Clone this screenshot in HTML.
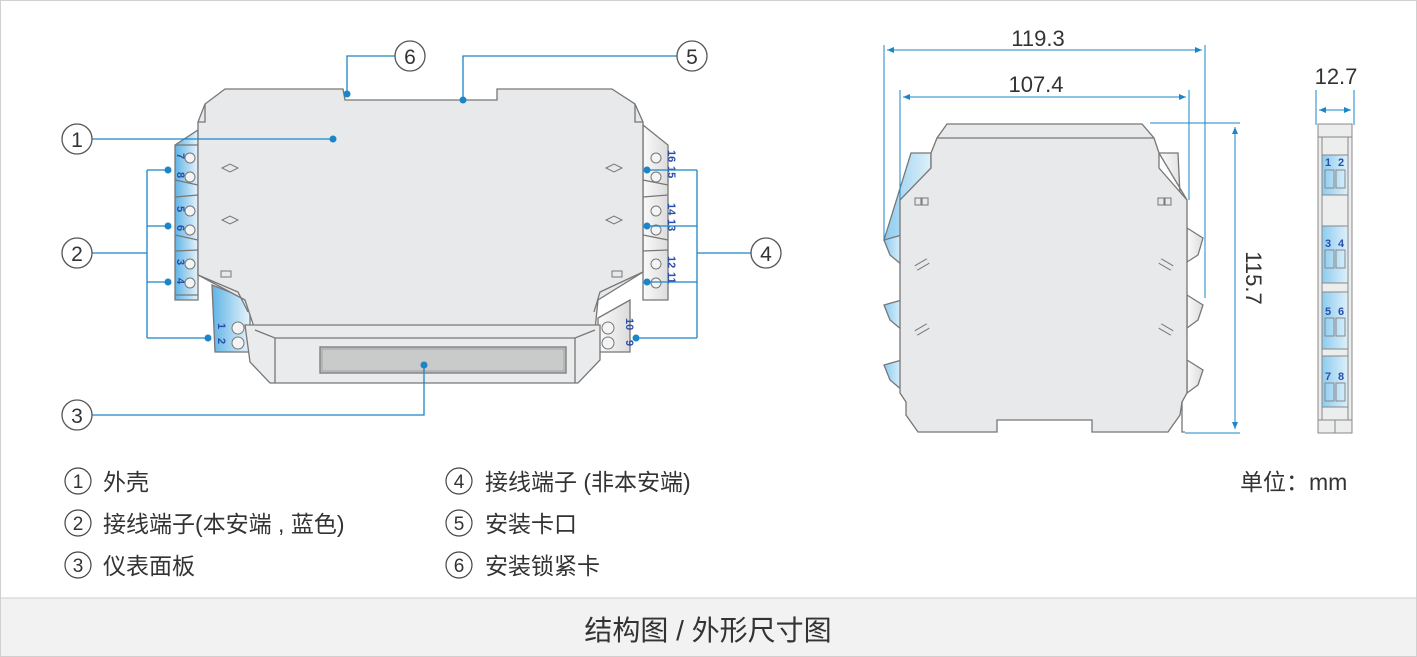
<!DOCTYPE html>
<html><head><meta charset="utf-8"><style>
html,body{margin:0;padding:0;background:#fff}
svg{display:block}
text{font-family:"Liberation Sans","Noto Sans CJK SC",sans-serif}
</style></head><body>
<svg width="1417" height="657" viewBox="0 0 1417 657" xmlns="http://www.w3.org/2000/svg">
<defs>
<linearGradient id="bl" x1="0" x2="1" y1="0" y2="0"><stop offset="0" stop-color="#5fb4e6"/><stop offset="1" stop-color="#e8f3fa"/></linearGradient>
<linearGradient id="gr" x1="0" x2="1"><stop offset="0" stop-color="#fafafa"/><stop offset="1" stop-color="#dcdcdc"/></linearGradient>
<linearGradient id="bv" x1="0" x2="1"><stop offset="0" stop-color="#8cccf0"/><stop offset="1" stop-color="#dff0fa"/></linearGradient>
</defs>
<rect x="0.5" y="0.5" width="1416" height="656" fill="#fff" stroke="#d0d0d0"/>
<rect x="1" y="598" width="1415" height="58" fill="#f2f2f2"/>
<line x1="1" y1="598" x2="1416" y2="598" stroke="#cfcfcf"/>
<text x="708" y="640" font-size="28" text-anchor="middle" fill="#333">结构图 / 外形尺寸图</text>

<!-- LEFT DEVICE -->
<g stroke="#777" stroke-width="1.3">
 <path d="M175,145 L198,130 L198,300 L175,300 Z" fill="url(#bl)"/>
 <path d="M175,145 L198,145 M175,180 L198,185 M175,197 L198,195 M175,235 L198,240 M175,251 L198,250 M175,295 L198,295" fill="none"/>
 <path d="M212,285 L250,300 L250,352 L215,352 Z" fill="url(#bl)"/>
 <path d="M643,125 L668,145 L668,300 L643,300 Z" fill="url(#gr)"/>
 <path d="M643,180 L668,185 M643,197 L668,195 M643,235 L668,240 M643,251 L668,250" fill="none"/>
 <path d="M598,318 L630,300 L630,352 L598,352 Z" fill="url(#gr)"/>
 <path d="M198,122 L205,104 L225,89 L343,89 L345,100 L497,100 L497,89 L612,89 L635,104 L643,122 L643,272 L598,300 L595,330 L255,330 L245,300 L198,275 Z" fill="#e8e9eb"/>
 <path d="M205,104 L205,122 L198,122 M635,104 L635,122 L643,122" fill="none"/>
 <path d="M198,275 L238,292 L248,312 M643,272 L600,292 L594,312" fill="none"/>
 <path d="M245,325 L600,325 L600,360 L578,383 L270,383 L250,362 Z" fill="#eaebed"/>
 <path d="M255,330 L275,338 L575,338 L595,330 M275,338 L275,383 M575,338 L575,383" fill="none"/>
 <rect x="320" y="347" width="246" height="26" fill="#c9caca"/>
 <rect x="322" y="349" width="242" height="22" fill="none" stroke="#999" stroke-width="0.8"/>
 <path d="M222,168 L230,164 L238,168 L230,172 Z M222,220 L230,216 L238,220 L230,224 Z M606,168 L614,164 L622,168 L614,172 Z M606,220 L614,216 L622,220 L614,224 Z" fill="none" stroke-width="1"/>
 <rect x="221" y="271" width="10" height="6" fill="none" stroke-width="1"/>
 <rect x="612" y="271" width="10" height="6" fill="none" stroke-width="1"/>
 <g fill="#f4f4f4" stroke-width="1">
  <circle cx="190" cy="158" r="5"/><circle cx="190" cy="177" r="5"/><circle cx="190" cy="211" r="5"/><circle cx="190" cy="230" r="5"/><circle cx="190" cy="264" r="5"/><circle cx="190" cy="283" r="5"/>
  <circle cx="656" cy="158" r="5"/><circle cx="656" cy="177" r="5"/><circle cx="656" cy="211" r="5"/><circle cx="656" cy="230" r="5"/><circle cx="656" cy="264" r="5"/><circle cx="656" cy="283" r="5"/>
  <circle cx="238" cy="328" r="6"/><circle cx="238" cy="343" r="6"/><circle cx="608" cy="328" r="6"/><circle cx="608" cy="343" r="6"/>
 </g>
</g>
<g fill="#2a4fa8" font-size="11" font-weight="bold">
 <text transform="translate(177,153) rotate(90)">7</text><text transform="translate(177,172) rotate(90)">8</text>
 <text transform="translate(177,206) rotate(90)">5</text><text transform="translate(177,225) rotate(90)">6</text>
 <text transform="translate(177,259) rotate(90)">3</text><text transform="translate(177,278) rotate(90)">4</text>
 <text transform="translate(218,323) rotate(90)">1</text><text transform="translate(218,338) rotate(90)">2</text>
 <text transform="translate(668,150) rotate(90)">16</text><text transform="translate(668,166) rotate(90)">15</text>
 <text transform="translate(668,203) rotate(90)">14</text><text transform="translate(668,219) rotate(90)">13</text>
 <text transform="translate(668,256) rotate(90)">12</text><text transform="translate(668,272) rotate(90)">11</text>
 <text transform="translate(626,318) rotate(90)">10</text><text transform="translate(626,340) rotate(90)">9</text>
</g>

<!-- callouts -->
<g stroke="#1a86c8" stroke-width="1.3" fill="none">
 <path d="M92,139 H333"/>
 <path d="M92,253 H147 M147,170 V338 M147,170 H168 M147,226 H168 M147,282 H168 M147,338 H208"/>
 <path d="M92,415 H424 V365"/>
 <path d="M751,253 H697 M697,170 V338 M697,170 H647 M697,226 H647 M697,282 H647 M697,338 H636"/>
 <path d="M677,56 H463 V100"/>
 <path d="M395,56 H347 V94"/>
</g>
<g fill="#1a86c8">
 <circle cx="333" cy="139" r="3.5"/><circle cx="168" cy="170" r="3.5"/><circle cx="168" cy="226" r="3.5"/><circle cx="168" cy="282" r="3.5"/><circle cx="208" cy="338" r="3.5"/>
 <circle cx="424" cy="365" r="3.5"/><circle cx="647" cy="170" r="3.5"/><circle cx="647" cy="226" r="3.5"/><circle cx="647" cy="282" r="3.5"/><circle cx="636" cy="338" r="3.5"/>
 <circle cx="463" cy="100" r="3.5"/><circle cx="347" cy="94" r="3.5"/>
</g>
<g stroke="#555" stroke-width="1.3" fill="#fff">
 <circle cx="77" cy="139" r="15"/><circle cx="77" cy="253" r="15"/><circle cx="77" cy="415" r="15"/>
 <circle cx="766" cy="253" r="15"/><circle cx="692" cy="56" r="15"/><circle cx="410" cy="56" r="15"/>
</g>
<g font-size="21" fill="#333" text-anchor="middle">
 <text x="77" y="147">1</text><text x="77" y="261">2</text><text x="77" y="423">3</text>
 <text x="766" y="261">4</text><text x="692" y="64">5</text><text x="410" y="64">6</text>
</g>

<!-- RIGHT SIDE VIEW -->
<g stroke="#777" stroke-width="1.3">
 <path d="M911,153 L931,153 L931,168 L902,200 L902,240 L884,240 Z" fill="url(#bv)"/>
 <path d="M902,235 L884,240 L890,255 L902,265 Z M902,300 L884,305 L890,320 L902,330 Z M902,360 L884,365 L890,380 L902,390 Z" fill="url(#bv)"/>
 <path d="M1159,153 L1178,153 L1180,195 L1187,200 Z" fill="url(#gr)"/>
 <path d="M1187,228 L1203,238 L1198,255 L1187,262 Z M1187,295 L1203,305 L1198,320 L1187,328 Z M1187,360 L1203,370 L1198,385 L1187,393 Z" fill="url(#gr)"/>
 <path d="M947,124 L1142,124 L1154,138 L1159,153 L1159,168 L1187,200 L1187,393 L1182,402 L1180,415 L1168,432 L1092,432 L1092,420 L997,420 L997,432 L918,432 L906,415 L906,402 L900,393 L900,200 L931,168 L931,153 L937,138 Z" fill="#e8e9eb"/>
 <path d="M937,138 L1154,138 M1182,402 L1182,432 L1185,432" fill="none"/>
 <g fill="none" stroke-width="1">
  <rect x="915" y="198" width="6" height="7"/><rect x="922" y="198" width="6" height="7"/>
  <rect x="1158" y="198" width="6" height="7"/><rect x="1165" y="198" width="6" height="7"/>
  <path d="M916,268 L928,261 M916,333 L928,326 M1160,261 L1172,268 M1160,326 L1172,333" stroke-width="6" stroke="#777"/>
  <path d="M916,268 L928,261 M916,333 L928,326 M1160,261 L1172,268 M1160,326 L1172,333" stroke-width="4" stroke="#e8e9eb"/>
 </g>
</g>
<g stroke="#1a86c8" stroke-width="1" fill="none">
 <path d="M884,45 V240 M1205,45 V298 M887,50 H1202"/>
 <path d="M900,90 V200 M1189,90 V200 M903,97 H1186"/>
 <path d="M1150,123 H1240 M1185,433 H1240 M1235,127 V429"/>
 <path d="M1316,90 V125 M1354,90 V125 M1319,110 H1351"/>
</g>
<g fill="#1a86c8">
 <path d="M887,50 l7,-3 v6 z M1202,50 l-7,-3 v6 z M903,97 l7,-3 v6 z M1186,97 l-7,-3 v6 z M1235,127 l-3,7 h6 z M1235,429 l-3,-7 h6 z M1319,110 l7,-3 v6 z M1351,110 l-7,-3 v6 z"/>
</g>
<g font-size="22" fill="#333">
 <text x="1038" y="46" text-anchor="middle">119.3</text>
 <text x="1036" y="92" text-anchor="middle">107.4</text>
 <text x="1336" y="84" text-anchor="middle">12.7</text>
 <text transform="translate(1246,278) rotate(90)" text-anchor="middle">115.7</text>
</g>

<g stroke="#888" stroke-width="1">
 <rect x="1318" y="124" width="34" height="309" fill="#eceded"/>
 <line x1="1318" y1="137" x2="1352" y2="137"/>
 <line x1="1322" y1="137" x2="1322" y2="420"/><line x1="1348" y1="137" x2="1348" y2="420"/>
 <line x1="1318" y1="420" x2="1352" y2="420"/><line x1="1335" y1="420" x2="1335" y2="433"/>
 <rect x="1322" y="155" width="26" height="40" fill="url(#bv)"/>
 <rect x="1322" y="226" width="26" height="57" fill="url(#bv)"/>
 <rect x="1322" y="292" width="26" height="57" fill="url(#bv)"/>
 <rect x="1322" y="356" width="26" height="51" fill="url(#bv)"/>
 <g fill="none">
  <rect x="1325" y="170" width="9" height="18"/><rect x="1336" y="170" width="9" height="18"/>
  <rect x="1325" y="250" width="9" height="18"/><rect x="1336" y="250" width="9" height="18"/>
  <rect x="1325" y="318" width="9" height="18"/><rect x="1336" y="318" width="9" height="18"/>
  <rect x="1325" y="383" width="9" height="18"/><rect x="1336" y="383" width="9" height="18"/>
 </g>
</g>
<g fill="#2a4fa8" font-size="11" font-weight="bold">
 <text x="1325" y="166">1</text><text x="1338" y="166">2</text>
 <text x="1325" y="247">3</text><text x="1338" y="247">4</text>
 <text x="1325" y="315">5</text><text x="1338" y="315">6</text>
 <text x="1325" y="380">7</text><text x="1338" y="380">8</text>
</g>

<!-- legend -->
<g stroke="#444" stroke-width="1.2" fill="none">
 <circle cx="78" cy="481" r="13"/><circle cx="78" cy="523" r="13"/><circle cx="78" cy="565" r="13"/>
 <circle cx="459" cy="481" r="13"/><circle cx="459" cy="523" r="13"/><circle cx="459" cy="565" r="13"/>
</g>
<g font-size="19" fill="#333" text-anchor="middle">
 <text x="78" y="488">1</text><text x="78" y="530">2</text><text x="78" y="572">3</text>
 <text x="459" y="488">4</text><text x="459" y="530">5</text><text x="459" y="572">6</text>
</g>
<g font-size="23" fill="#333">
 <text x="103" y="490">外壳</text>
 <text x="103" y="532">接线端子(本安端 , 蓝色)</text>
 <text x="103" y="574">仪表面板</text>
 <text x="485" y="490">接线端子 (非本安端)</text>
 <text x="485" y="532">安装卡口</text>
 <text x="485" y="574">安装锁紧卡</text>
 <text x="1240" y="490">单位：mm</text>
</g>
</svg>
</body></html>
